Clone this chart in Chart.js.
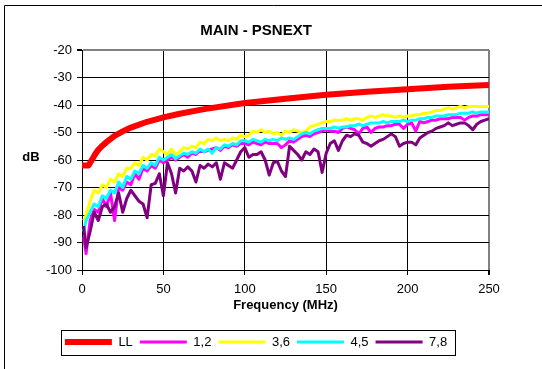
<!DOCTYPE html>
<html>
<head>
<meta charset="utf-8">
<title>MAIN - PSNEXT</title>
<script src="https://cdn.jsdelivr.net/npm/chart.js@4.4.1/dist/chart.umd.min.js"></script>
<style>
  html, body { margin: 0; padding: 0; background: #fff; }
  #wrap { position: relative; width: 542px; height: 369px; }
</style>
</head>
<body>
<div id="wrap"><canvas id="psnextChart" width="542" height="369"></canvas></div>
<script>
// limit line (LL), sampled where the curve bends
const llFreq = [0.5, 2, 4, 5, 6, 8, 10, 12.5, 15, 20, 25, 30, 40, 50, 60, 75, 100, 125, 150, 175, 200, 225, 250];
const llDb = [-62, -62, -62, -61, -60, -58, -56.3, -54.8, -53.5, -51.2, -49.6, -48.2, -46.1, -44.5, -43.2, -41.5, -39.3, -37.7, -36.3, -35.2, -34.3, -33.4, -32.7];

// measured pairs, one sample every 2.5 MHz
const freq = [
  1, 2.5, 5, 7.5, 10, 12.5, 15, 17.5, 20, 22.5,
  25, 27.5, 30, 32.5, 35, 37.5, 40, 42.5, 45, 47.5,
  50, 52.5, 55, 57.5, 60, 62.5, 65, 67.5, 70, 72.5,
  75, 77.5, 80, 82.5, 85, 87.5, 90, 92.5, 95, 97.5,
  100, 102.5, 105, 107.5, 110, 112.5, 115, 117.5, 120, 122.5,
  125, 127.5, 130, 132.5, 135, 137.5, 140, 142.5, 145, 147.5,
  150, 152.5, 155, 157.5, 160, 162.5, 165, 167.5, 170, 172.5,
  175, 177.5, 180, 182.5, 185, 187.5, 190, 192.5, 195, 197.5,
  200, 202.5, 205, 207.5, 210, 212.5, 215, 217.5, 220, 222.5,
  225, 227.5, 230, 232.5, 235, 237.5, 240, 242.5, 245, 247.5,
  250
];

const pair12 = [
  -88, -94, -82, -78, -79, -74, -77, -72, -82, -70,
  -71, -68, -69, -65, -67, -63, -64, -62, -63, -60,
  -61, -60, -59, -60, -59, -58, -59, -57.5, -58, -56.5,
  -57, -56.5, -56, -55.5, -56.5, -55, -55.5, -54.5, -55, -54,
  -54, -54.5, -53.5, -54, -54.5, -53.5, -54, -54, -54, -55.5,
  -54.5, -53, -53.5, -52.5, -51.5, -51, -51.5, -50.5, -50, -49.5,
  -49, -49.5, -49.5, -50, -48.5, -48, -48.5, -49, -50.5, -48.5,
  -48, -50, -48.5, -48, -48, -47.5, -47.5, -47, -47, -48.5,
  -47, -46.5, -49.5, -46, -46.5, -46, -45.5, -45.5, -45, -45,
  -45, -44.5, -44.5, -44.5, -45.5, -44.5, -44, -44, -43.5, -43.5,
  -43.5
];

const pair36 = [
  -82, -80, -75, -71, -72, -69, -70, -67, -68, -65,
  -66, -63, -63, -61, -62, -59, -60, -58, -58.5, -56,
  -57, -58, -56, -58, -57, -55.5, -56, -55, -55.5, -53.5,
  -54, -52.5, -53, -52, -53, -52.5, -53, -52, -52.5, -51,
  -51.5, -51, -49.5, -50, -49, -50, -49.5, -50.5, -50, -51,
  -49.5, -50, -49, -49.5, -50, -49.5, -48, -47.5, -47, -46.5,
  -46, -46, -45.5, -45.5, -45.5, -45, -45.5, -45, -45, -45.5,
  -44.5, -44, -44.5, -44, -43.5, -44, -44, -44.5, -44, -44.5,
  -44, -44, -43.5, -43.5, -43, -43, -42.5, -42, -42, -41.5,
  -41, -41.5, -41, -40.5, -41, -40.5, -40.5, -40.5, -40.5, -40.5,
  -40.5
];

const pair45 = [
  -86, -82, -79, -76, -77, -73, -74, -71, -72, -68,
  -70, -66, -67, -64, -65, -62, -63, -61, -62, -59,
  -60, -59, -58, -59.5, -58.5, -57.5, -58, -57, -57.5, -56,
  -57, -56, -57.5, -55.5, -56, -54.5, -55, -54, -54.5, -53,
  -53, -53.5, -52.5, -53, -53.5, -52.5, -53, -52.5, -53, -52,
  -52.5, -52, -52.5, -51.5, -50.5, -50, -50.5, -49.5, -49, -48.5,
  -48.5, -48.5, -48, -48.5, -48, -48, -47.5, -47.5, -47, -47.5,
  -47, -46.5, -46.5, -46.5, -46, -46.5, -46, -46, -46, -45.5,
  -46, -45.5, -45.5, -45, -45, -44.5, -44.5, -44, -44, -44,
  -43.5, -43.5, -43.5, -43, -43, -43, -42.5, -43, -42.5, -42.5,
  -42.5
];

const pair78 = [
  -84, -92, -86, -79, -82, -77, -76, -79, -77, -72,
  -79, -74, -71, -73, -75, -76, -81, -69, -68.5, -65,
  -73, -61, -65, -72, -63, -64, -62.5, -64, -68, -62,
  -63, -61.5, -62.5, -61, -67, -61, -62, -63, -60, -57,
  -55.5, -59, -58, -58, -57, -60, -65.5, -61, -60.5, -64,
  -66, -55, -56.5, -58, -60, -57, -58, -56, -57, -64.5,
  -57.5, -54, -53, -56.5, -53, -51, -51.5, -50.5, -51, -53.5,
  -54, -55, -54, -53, -52.5, -51.5, -50.5, -51.5, -55, -54,
  -53.5, -53.5, -54.5, -52, -51, -50, -49.5, -48.5, -48, -47.5,
  -46.5, -47.5, -47, -46.5, -46.5, -47.5, -49, -47, -46, -45.5,
  -45
];

const seriesNames = ['LL', '1,2', '3,6', '4,5', '7,8'];
const seriesColors = ['#ff0000', '#ff00ff', '#ffff00', '#00ffff', '#800080'];

function toPoints(xs, ys) {
  return ys.map((y, i) => ({ x: xs[i], y: y }));
}

Chart.defaults.font.family = '"Liberation Sans", Arial, sans-serif';
Chart.defaults.color = '#000';

// outer frame and the horizontal "dB" axis caption
const framePlugin = {
  id: 'frame',
  afterDraw(chart) {
    const ctx = chart.ctx;
    ctx.save();
    ctx.strokeStyle = '#000';
    ctx.lineWidth = 1;
    ctx.beginPath();
    ctx.moveTo(4.5, 369);
    ctx.lineTo(4.5, 5.5);
    ctx.lineTo(542, 5.5);
    ctx.stroke();

    const area = chart.chartArea;
    ctx.font = 'bold 13px "Liberation Sans", Arial, sans-serif';
    ctx.fillStyle = '#000';
    ctx.textAlign = 'center';
    ctx.textBaseline = 'middle';
    ctx.fillText('dB', 31, (area.top + area.bottom) / 2 - 3);
    ctx.restore();
  }
};

// box around the legend items
const legendBoxPlugin = {
  id: 'legendBox',
  afterDraw(chart) {
    const boxes = chart.legend && chart.legend.legendHitBoxes;
    if (!boxes || !boxes.length) return;
    let left = Infinity, right = -Infinity, top = Infinity, bottom = -Infinity;
    boxes.forEach(b => {
      left = Math.min(left, b.left);
      right = Math.max(right, b.left + b.width);
      top = Math.min(top, b.top);
      bottom = Math.max(bottom, b.top + b.height);
    });
    const ctx = chart.ctx;
    ctx.save();
    ctx.strokeStyle = '#000';
    ctx.lineWidth = 1;
    ctx.strokeRect(Math.round(left - 4) + 0.5, Math.round(top - 6) + 0.5,
      Math.round(right - left + 12), Math.round(bottom - top + 12));
    ctx.restore();
  }
};

const ctx = document.getElementById('psnextChart').getContext('2d');
new Chart(ctx, {
  type: 'line',
  data: {
    datasets: [
      { label: seriesNames[0], data: toPoints(llFreq, llDb), borderColor: seriesColors[0], backgroundColor: seriesColors[0], borderWidth: 6, borderCapStyle: 'round', order: 5 },
      { label: seriesNames[1], data: toPoints(freq, pair12), borderColor: seriesColors[1], backgroundColor: seriesColors[1], borderWidth: 3, order: 4 },
      { label: seriesNames[2], data: toPoints(freq, pair36), borderColor: seriesColors[2], backgroundColor: seriesColors[2], borderWidth: 3, order: 3 },
      { label: seriesNames[3], data: toPoints(freq, pair45), borderColor: seriesColors[3], backgroundColor: seriesColors[3], borderWidth: 3, order: 2 },
      { label: seriesNames[4], data: toPoints(freq, pair78), borderColor: seriesColors[4], backgroundColor: seriesColors[4], borderWidth: 3, order: 1 }
    ]
  },
  options: {
    responsive: false,
    animation: false,
    devicePixelRatio: 1,
    elements: {
      point: { radius: 0, hoverRadius: 0 },
      line: { tension: 0, borderJoinStyle: 'round' }
    },
    layout: { padding: { left: 23, right: 53, top: 0, bottom: 10.5 } },
    plugins: {
      title: {
        display: true,
        text: 'MAIN - PSNEXT',
        font: { size: 15, weight: 'bold' },
        color: '#000',
        padding: { top: 22, bottom: 10 }
      },
      legend: {
        position: 'bottom',
        labels: {
          usePointStyle: true,
          pointStyle: 'line',
          pointStyleWidth: 47,
          padding: 7,
          font: { size: 13 },
          color: '#000',
          sort: (a, b) => a.datasetIndex - b.datasetIndex
        }
      },
      tooltip: { enabled: false }
    },
    scales: {
      x: {
        type: 'linear',
        min: 0,
        max: 250,
        ticks: { stepSize: 50, padding: 7, font: { size: 13 }, color: '#000', maxRotation: 0 },
        grid: {
          color: c => (c.tick && c.tick.value === 250 ? '#808080' : '#000'),
          lineWidth: c => (c.tick && c.tick.value === 250 ? 2 : 1),
          tickColor: '#000',
          tickLength: 5
        },
        border: { color: '#000', width: 1 },
        title: {
          display: true,
          text: 'Frequency (MHz)',
          font: { size: 13, weight: 'bold' },
          color: '#000',
          padding: { top: 4, bottom: 15 }
        },
        afterFit(scale) { scale.height = 58.5; }
      },
      y: {
        min: -100,
        max: -20,
        ticks: { stepSize: 10, padding: 5, font: { size: 13 }, color: '#000' },
        grid: {
          color: c => (c.tick && c.tick.value === -20 ? '#808080' : '#000'),
          lineWidth: c => (c.tick && c.tick.value === -20 ? 2 : 1),
          tickColor: '#000',
          tickLength: 5
        },
        border: { color: '#000', width: 1 },
        afterFit(scale) { scale.width = 59; }
      }
    }
  },
  plugins: [framePlugin, legendBoxPlugin]
});
</script>
</body>
</html>
